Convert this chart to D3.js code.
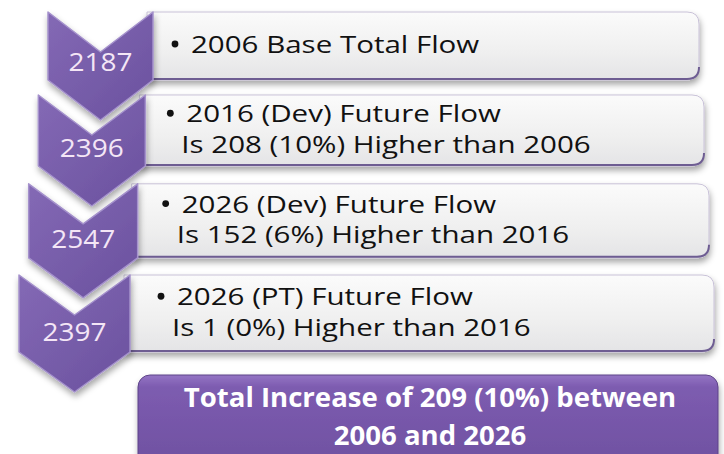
<!DOCTYPE html>
<html>
<head>
<meta charset="utf-8">
<script src="https://cdn.jsdelivr.net/npm/d3@7"></script>
<style>
  html, body { margin: 0; padding: 0; background: #fff; }
  svg { display: block; }
</style>
</head>
<body>
<script>
// flow totals shown in the chevrons
var flows = [2187, 2396, 2547, 2397];
// first line of each box (bullet line)
var headings = ["2006 Base Total Flow", "2016 (Dev) Future Flow", "2026 (Dev) Future Flow", "2026 (PT) Future Flow"];
// second line of each box
var details = ["", "Is 208 (10%) Higher than 2006", "Is 152 (6%) Higher than 2016", "Is 1 (0%) Higher than 2016"];
// summary box
var summary = ["Total Increase of 209 (10%) between", "2006 and 2026"];

var W = 724, H = 454;
var svg = d3.select("body").append("svg").attr("width", W).attr("height", H);
var defs = svg.append("defs");

// gradients + shadow
var gBox = defs.append("linearGradient").attr("id", "boxFill").attr("x1", 0).attr("y1", 0).attr("x2", 0).attr("y2", 1);
gBox.append("stop").attr("offset", "0%").attr("stop-color", "#fbfbfb");
gBox.append("stop").attr("offset", "60%").attr("stop-color", "#efefef");
gBox.append("stop").attr("offset", "100%").attr("stop-color", "#e4e4e6");

var gChev = defs.append("linearGradient").attr("id", "chevFill").attr("x1", 0).attr("y1", 0).attr("x2", 1).attr("y2", 1);
gChev.append("stop").attr("offset", "0%").attr("stop-color", "#8469b5");
gChev.append("stop").attr("offset", "100%").attr("stop-color", "#6a519e");

var gSum = defs.append("linearGradient").attr("id", "sumFill").attr("x1", 0).attr("y1", 0).attr("x2", 0).attr("y2", 1);
gSum.append("stop").attr("offset", "0%").attr("stop-color", "#9474c4");
gSum.append("stop").attr("offset", "12%").attr("stop-color", "#7d5cb0");
gSum.append("stop").attr("offset", "100%").attr("stop-color", "#6d4f9f");

var sh = defs.append("filter").attr("id", "shadow").attr("x", "-10%").attr("y", "-10%").attr("width", "130%").attr("height", "140%");
sh.append("feDropShadow").attr("dx", 1).attr("dy", 4).attr("stdDeviation", 3).attr("flood-color", "#000").attr("flood-opacity", 0.35);

// layout scales (rows drift left and grow a little, like the perspective in the original)
var idx = d3.range(flows.length);
var rowTop = d3.scalePow().exponent(1.05).domain([0, 3]).range([12, 275]);
var bodyH = d3.scaleLinear().domain([0, 3]).range([68, 77]);
var chevLeft = d3.scaleLinear().domain([0, 3]).range([48, 19]);
var chevW = d3.scaleLinear().domain([0, 3]).range([105, 111]);
var boxRight = d3.scaleLinear().domain([0, 3]).range([699, 714]);
var textX = d3.scaleLinear().domain([0, 3]).range([191, 177]);
var depth = 40, lineGap = 30.5;
var font = "'Open Sans', Lato, sans-serif";
// the original text is drawn a bit wider than the font, so stretch it sideways
var boxStretch = 1.23, numStretch = 1.12, sumStretch = 1.04;

function roundRight(x0, y0, x1, y1, r) {
  return "M" + x0 + "," + y0 + "H" + (x1 - r) + "Q" + x1 + "," + y0 + " " + x1 + "," + (y0 + r) +
    "V" + (y1 - r) + "Q" + x1 + "," + y1 + " " + (x1 - r) + "," + y1 + "H" + x0 + "Z";
}

function stretched(g, x, y, sx, t) {
  return g.append("text")
    .attr("transform", "translate(" + x + "," + y + ") scale(" + sx + ",1)")
    .text(t);
}

// boxes first (chevrons sit over their left edge)
var rows = svg.selectAll("g.row").data(idx).enter().append("g").attr("class", "row");

rows.append("path")
  .attr("d", function (i) {
    var x0 = chevLeft(i) + chevW(i) - 6, y0 = rowTop(i);
    return roundRight(x0, y0, boxRight(i), y0 + bodyH(i), 12);
  })
  .attr("fill", "url(#boxFill)")
  .attr("stroke", "#c9c2d8")
  .attr("stroke-width", 1)
  .attr("filter", "url(#shadow)");

// purple bottom edge of the boxes
rows.append("path")
  .attr("d", function (i) {
    var x0 = chevLeft(i) + chevW(i) - 6, y1 = rowTop(i) + bodyH(i) - 1, x1 = boxRight(i);
    return "M" + x0 + "," + y1 + "H" + (x1 - 12) + "Q" + x1 + "," + y1 + " " + x1 + "," + (y1 - 12);
  })
  .attr("fill", "none")
  .attr("stroke", "#6e5d92")
  .attr("stroke-width", 2);

rows.each(function (i) {
  var g = d3.select(this);
  var lines = [headings[i]];
  if (details[i]) lines.push(details[i]);
  var cy = rowTop(i) + bodyH(i) / 2;
  lines.forEach(function (t, k) {
    var base = cy + (k - (lines.length - 1) / 2) * lineGap + 7;
    if (k === 0) {
      g.append("circle")
        .attr("cx", textX(i) - 16)
        .attr("cy", base - 9)
        .attr("r", 3.4)
        .attr("fill", "#111");
    }
    stretched(g, textX(i) - (k ? 5 : 0), base, boxStretch, t)
      .attr("font-family", font)
      .attr("font-size", 24)
      .attr("fill", "#111");
  });
});

// chevrons
var chev = svg.selectAll("g.chev").data(idx).enter().append("g").attr("class", "chev");
chev.append("path")
  .attr("d", function (i) {
    var x = chevLeft(i), w = chevW(i), t = rowTop(i), b = t + bodyH(i);
    return "M" + x + "," + t + "L" + (x + w / 2) + "," + (t + depth) + "L" + (x + w) + "," + t +
      "L" + (x + w) + "," + b + "L" + (x + w / 2) + "," + (b + depth) + "L" + x + "," + b + "Z";
  })
  .attr("fill", "url(#chevFill)")
  .attr("stroke", "#a592cc")
  .attr("stroke-width", 1.5)
  .attr("stroke-linejoin", "round")
  .attr("filter", "url(#shadow)");

chev.each(function (i) {
  stretched(d3.select(this), chevLeft(i) + chevW(i) / 2, rowTop(i) + bodyH(i) * 0.74 + 9, numStretch, flows[i])
    .attr("text-anchor", "middle")
    .attr("font-family", font)
    .attr("font-size", 25)
    .attr("fill", "#f4e6f6");
});

// summary box
var sumX0 = 138, sumX1 = 718, sumY0 = 375;
svg.append("rect")
  .attr("x", sumX0).attr("y", sumY0)
  .attr("width", sumX1 - sumX0).attr("height", 100)
  .attr("rx", 12)
  .attr("fill", "url(#sumFill)")
  .attr("stroke", "#5d4588")
  .attr("stroke-width", 1)
  .attr("filter", "url(#shadow)");

var sumG = svg.append("g");
summary.forEach(function (t, k) {
  stretched(sumG, (sumX0 + sumX1) / 2 + 2, 407 + k * 38, sumStretch, t)
    .attr("text-anchor", "middle")
    .attr("font-family", font)
    .attr("font-weight", "bold")
    .attr("font-size", 26.5)
    .attr("fill", "#fff");
});
</script>
</body>
</html>
